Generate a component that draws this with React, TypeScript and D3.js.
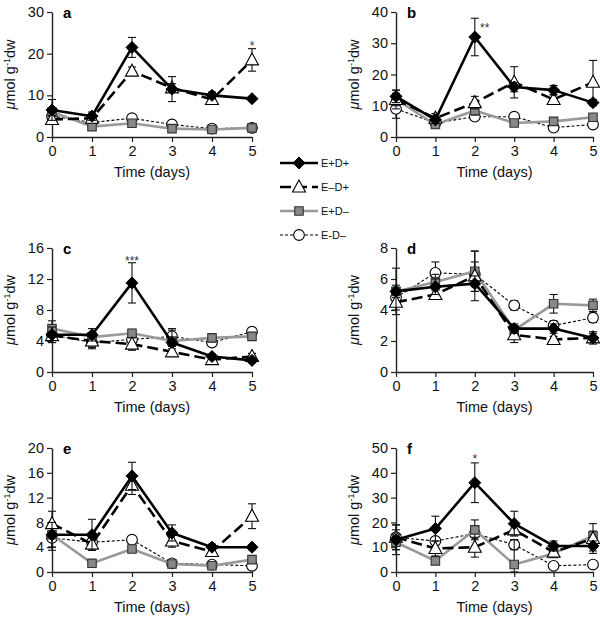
import { useEffect, useRef } from "react";
import * as d3 from "d3";

const days = [0, 1, 2, 3, 4, 5];
const seriesNames = ["E+D+", "E\u2013D+", "E+D\u2013", "E-D\u2013"];

// panel a
const aMax = 30;
const aTicks = [0, 10, 20, 30];
const aVals = [
  [6.5, 5, 21.5, 11.5, 10, 9.2],
  [4.2, 4.5, 15.8, 11.8, 9, 18.5],
  [6, 2.5, 3.3, 2, 1.8, 2.2],
  [5, 3.5, 4.5, 3, 2, 2.2],
];
const aErr = [
  [2.5, 1, 2.4, 3, 0.8, 0.5],
  [1, 0.8, 1, 1, 0.8, 2.7],
  [1, 0.5, 0.5, 0.5, 0.3, 0.5],
  [0.8, 0.5, 0.5, 0.5, 0.3, 0.3],
];

// panel b
const bMax = 40;
const bTicks = [0, 10, 20, 30, 40];
const bVals = [
  [13, 5.5, 32, 16, 15, 11],
  [12, 6, 11, 17.5, 12, 17.5],
  [12, 4, 8.5, 4.5, 5, 6.3],
  [9, 4.5, 6.5, 6.5, 3, 4],
];
const bErr = [
  [2, 1, 6, 1.5, 1.5, 1],
  [2, 1.5, 2, 5, 1.5, 7],
  [3, 1, 1.5, 1, 1, 1],
  [3, 1, 1, 1, 0.8, 0.8],
];

// panel c
const cMax = 16;
const cTicks = [0, 4, 8, 12, 16];
const cVals = [
  [4.8, 4.8, 11.5, 3.8, 2, 1.5],
  [4.7, 4, 3.6, 2.6, 1.6, 2],
  [5.6, 4.5, 5, 4, 4.4, 4.6],
  [4.8, 3.8, 4.2, 4.6, 3.8, 5.2],
];
const cErr = [
  [1, 0.8, 2.6, 0.5, 0.3, 0.3],
  [0.5, 0.8, 0.8, 0.4, 0.3, 0.4],
  [1, 0.6, 0.5, 1.6, 0.5, 0.5],
  [1, 0.8, 0.5, 0.8, 0.5, 0.4],
];

// panel d
const dMax = 8;
const dTicks = [0, 2, 4, 6, 8];
const dVals = [
  [5.2, 5.5, 5.7, 2.8, 2.8, 2.2],
  [4.5, 5, 6.2, 2.4, 2.1, 2.2],
  [5.2, 5.8, 6.5, 2.7, 4.4, 4.3],
  [4.8, 6.4, 6.3, 4.3, 3, 3.5],
];
const dErr = [
  [1.5, 0.5, 0.5, 0.3, 0.3, 0.3],
  [0.5, 0.3, 1.6, 0.5, 0.2, 0.4],
  [0.4, 0.5, 1.3, 0.3, 0.6, 0.4],
  [0.5, 0.7, 0.8, 0.3, 0.3, 0.3],
];

// panel e
const eMax = 20;
const eTicks = [0, 4, 8, 12, 16, 20];
const eVals = [
  [6, 6, 15.5, 6.3, 4, 4],
  [7.8, 4.5, 14, 5, 3.3, 9],
  [6, 1.4, 3.7, 1.3, 1, 2],
  [5.5, 4.8, 5.2, 1.4, 1.2, 1],
];
const eErr = [
  [2, 2.5, 2.2, 1.3, 0.5, 0.4],
  [2, 1, 1.5, 1, 0.5, 2],
  [2, 0.5, 0.5, 0.5, 0.5, 0.5],
  [2, 0.5, 0.5, 0.3, 0.3, 0.3],
];

// panel f
const fMax = 50;
const fTicks = [0, 10, 20, 30, 40, 50];
const fVals = [
  [13, 17.5, 36, 19.5, 10.5, 10.5],
  [14, 9.5, 10, 17, 8, 13.5],
  [12, 4.5, 17, 3, 7.5, 14.5],
  [14, 12.5, 15.5, 11, 2.5, 3],
];
const fErr = [
  [6, 5, 8, 5, 2, 2],
  [5, 3, 4, 2, 2, 6],
  [3, 1, 4, 10, 1, 2],
  [3, 1, 1, 2, 1, 1],
];

// significance marks: [day, value, text]
const aStars: [number, number, string][] = [[5, 22.3, "*"]];
const bStars: [number, number, string][] = [[2.25, 35.5, "**"]];
const cStars: [number, number, string][] = [[2, 14.6, "***"]];
const dStars: [number, number, string][] = [];
const eStars: [number, number, string][] = [];
const fStars: [number, number, string][] = [[2, 46.5, "*"]];

const panels = [
  { label: "a", max: aMax, ticks: aTicks, vals: aVals, err: aErr, stars: aStars, col: 0, row: 0 },
  { label: "b", max: bMax, ticks: bTicks, vals: bVals, err: bErr, stars: bStars, col: 1, row: 0 },
  { label: "c", max: cMax, ticks: cTicks, vals: cVals, err: cErr, stars: cStars, col: 0, row: 1 },
  { label: "d", max: dMax, ticks: dTicks, vals: dVals, err: dErr, stars: dStars, col: 1, row: 1 },
  { label: "e", max: eMax, ticks: eTicks, vals: eVals, err: eErr, stars: eStars, col: 0, row: 2 },
  { label: "f", max: fMax, ticks: fTicks, vals: fVals, err: fErr, stars: fStars, col: 1, row: 2 },
];

const styles = [
  { stroke: "#000", width: 2.6, dash: null as string | null, marker: "diamond", fill: "#000", mstroke: "#000" },
  { stroke: "#000", width: 2.6, dash: "11,5", marker: "triangle", fill: "#fff", mstroke: "#000" },
  { stroke: "#999", width: 2.6, dash: null, marker: "square", fill: "#888", mstroke: "#333" },
  { stroke: "#000", width: 1.1, dash: "3,2", marker: "circle", fill: "#fff", mstroke: "#000" },
];

const FONT = "'Liberation Sans', Arial, Helvetica, sans-serif";

function drawMarker(g: d3.Selection<SVGGElement, unknown, null, undefined>, x: number, y: number, s: typeof styles[number]) {
  let d: string;
  if (s.marker === "diamond") d = "M0,-6L6,0L0,6L-6,0Z";
  else if (s.marker === "triangle") d = "M0,-7L6.5,5L-6.5,5Z";
  else if (s.marker === "square") d = d3.symbol().type(d3.symbolSquare).size(72)() as string;
  else d = d3.symbol().type(d3.symbolCircle).size(90)() as string;
  g.append("path")
    .attr("d", d)
    .attr("transform", `translate(${x},${y})`)
    .attr("fill", s.fill)
    .attr("stroke", s.mstroke)
    .attr("stroke-width", s.marker === "diamond" ? 1 : 1.1);
}

export default function App() {
  const ref = useRef<SVGSVGElement>(null);

  useEffect(() => {
    if (!ref.current) return;
    const svg = d3.select(ref.current);
    svg.selectAll("*").remove();

    const colX = [[52, 252], [396, 593]];
    const rowY = [[12, 137], [248, 372], [448, 572]];

    panels.forEach((p) => {
      const [x0, x1] = colX[p.col];
      const [yTop, yBot] = rowY[p.row];
      const x = d3.scaleLinear().domain([0, 5]).range([x0, x1]);
      const y = d3.scaleLinear().domain([0, p.max]).range([yBot, yTop]);
      const g = svg.append("g");

      const yAxis = g.append("g")
        .attr("transform", `translate(${x0},0)`)
        .call(d3.axisLeft(y).tickValues(p.ticks).tickFormat(d3.format("d")).tickSize(5).tickSizeOuter(0).tickPadding(3));
      const xAxis = g.append("g")
        .attr("transform", `translate(0,${yBot})`)
        .call(d3.axisBottom(x).tickValues(days).tickFormat(d3.format("d")).tickSize(5).tickSizeOuter(0).tickPadding(4));
      [yAxis, xAxis].forEach((ax) => {
        ax.selectAll("path").attr("stroke", "#222").attr("stroke-width", 1.4);
        ax.selectAll("line").attr("stroke", "#222").attr("stroke-width", 1.2);
        ax.selectAll("text").attr("fill", "#111").attr("font-size", 14.5).attr("font-family", FONT);
      });

      // x title
      g.append("text")
        .attr("x", (x0 + x1) / 2)
        .attr("y", yBot + 40)
        .attr("text-anchor", "middle")
        .attr("font-size", 14.5)
        .attr("font-family", FONT)
        .attr("fill", "#111")
        .text("Time (days)");

      // y title
      const yt = g.append("text")
        .attr("transform", `translate(${x0 - 37},${(yTop + yBot) / 2}) rotate(-90)`)
        .attr("text-anchor", "middle")
        .attr("font-size", 14.5)
        .attr("font-family", FONT)
        .attr("fill", "#111");
      yt.append("tspan").attr("font-style", "italic").text("\u03bc");
      yt.append("tspan").text("mol g");
      yt.append("tspan").attr("font-size", 9).attr("dy", -5).text("-1");
      yt.append("tspan").attr("dy", 5).text("dw");

      // panel label
      g.append("text")
        .attr("x", x0 + 11)
        .attr("y", yTop + 6)
        .attr("font-size", 15)
        .attr("font-weight", "bold")
        .attr("font-family", FONT)
        .text(p.label);

      // series, drawn back to front
      const order = [3, 2, 1, 0];
      order.forEach((si) => {
        const s = styles[si];
        const vals = p.vals[si];
        const errs = p.err[si];
        const eg = g.append("g");
        vals.forEach((v, i) => {
          const cx = x(days[i]);
          const lo = y(Math.max(0, v - errs[i]));
          const hi = y(v + errs[i]);
          eg.append("line").attr("x1", cx).attr("x2", cx).attr("y1", lo).attr("y2", hi)
            .attr("stroke", "#111").attr("stroke-width", 1.1);
          [lo, hi].forEach((yy) => {
            eg.append("line").attr("x1", cx - 4).attr("x2", cx + 4).attr("y1", yy).attr("y2", yy)
              .attr("stroke", "#111").attr("stroke-width", 1.1);
          });
        });
        const line = d3.line<number>().x((_, i) => x(days[i])).y((v) => y(v));
        g.append("path")
          .attr("d", line(vals) as string)
          .attr("fill", "none")
          .attr("stroke", s.stroke)
          .attr("stroke-width", s.width)
          .attr("stroke-dasharray", s.dash)
          .attr("stroke-linejoin", "round");
        const mg = g.append("g");
        vals.forEach((v, i) => drawMarker(mg, x(days[i]), y(v), s));
      });

      p.stars.forEach(([d, v, t]) => {
        g.append("text")
          .attr("x", x(d))
          .attr("y", y(v) + 6)
          .attr("text-anchor", "middle")
          .attr("font-size", 12)
          .attr("font-family", FONT)
          .attr("fill", "#333")
          .text(t);
      });
    });

    // legend
    const lg = svg.append("g");
    const legendY = d3.scalePoint<string>().domain(seriesNames).range([163, 235]);
    seriesNames.forEach((name, i) => {
      const s = styles[i];
      const ly = legendY(name) as number;
      lg.append("line")
        .attr("x1", 280).attr("x2", 318).attr("y1", ly).attr("y2", ly)
        .attr("stroke", s.stroke)
        .attr("stroke-width", s.width)
        .attr("stroke-dasharray", s.dash);
      drawMarker(lg.append("g"), 299, ly, s);
      lg.append("text")
        .attr("x", 321)
        .attr("y", ly + 4)
        .attr("font-size", 11)
        .attr("font-family", "'Liberation Sans Narrow', 'Arial Narrow', " + FONT)
        .attr("fill", "#111")
        .text(name);
    });
  }, []);

  return (
    <svg
      ref={ref}
      width={600}
      height={618}
      style={{ position: "absolute", left: 0, top: 0, background: "#fff" }}
    />
  );
}
